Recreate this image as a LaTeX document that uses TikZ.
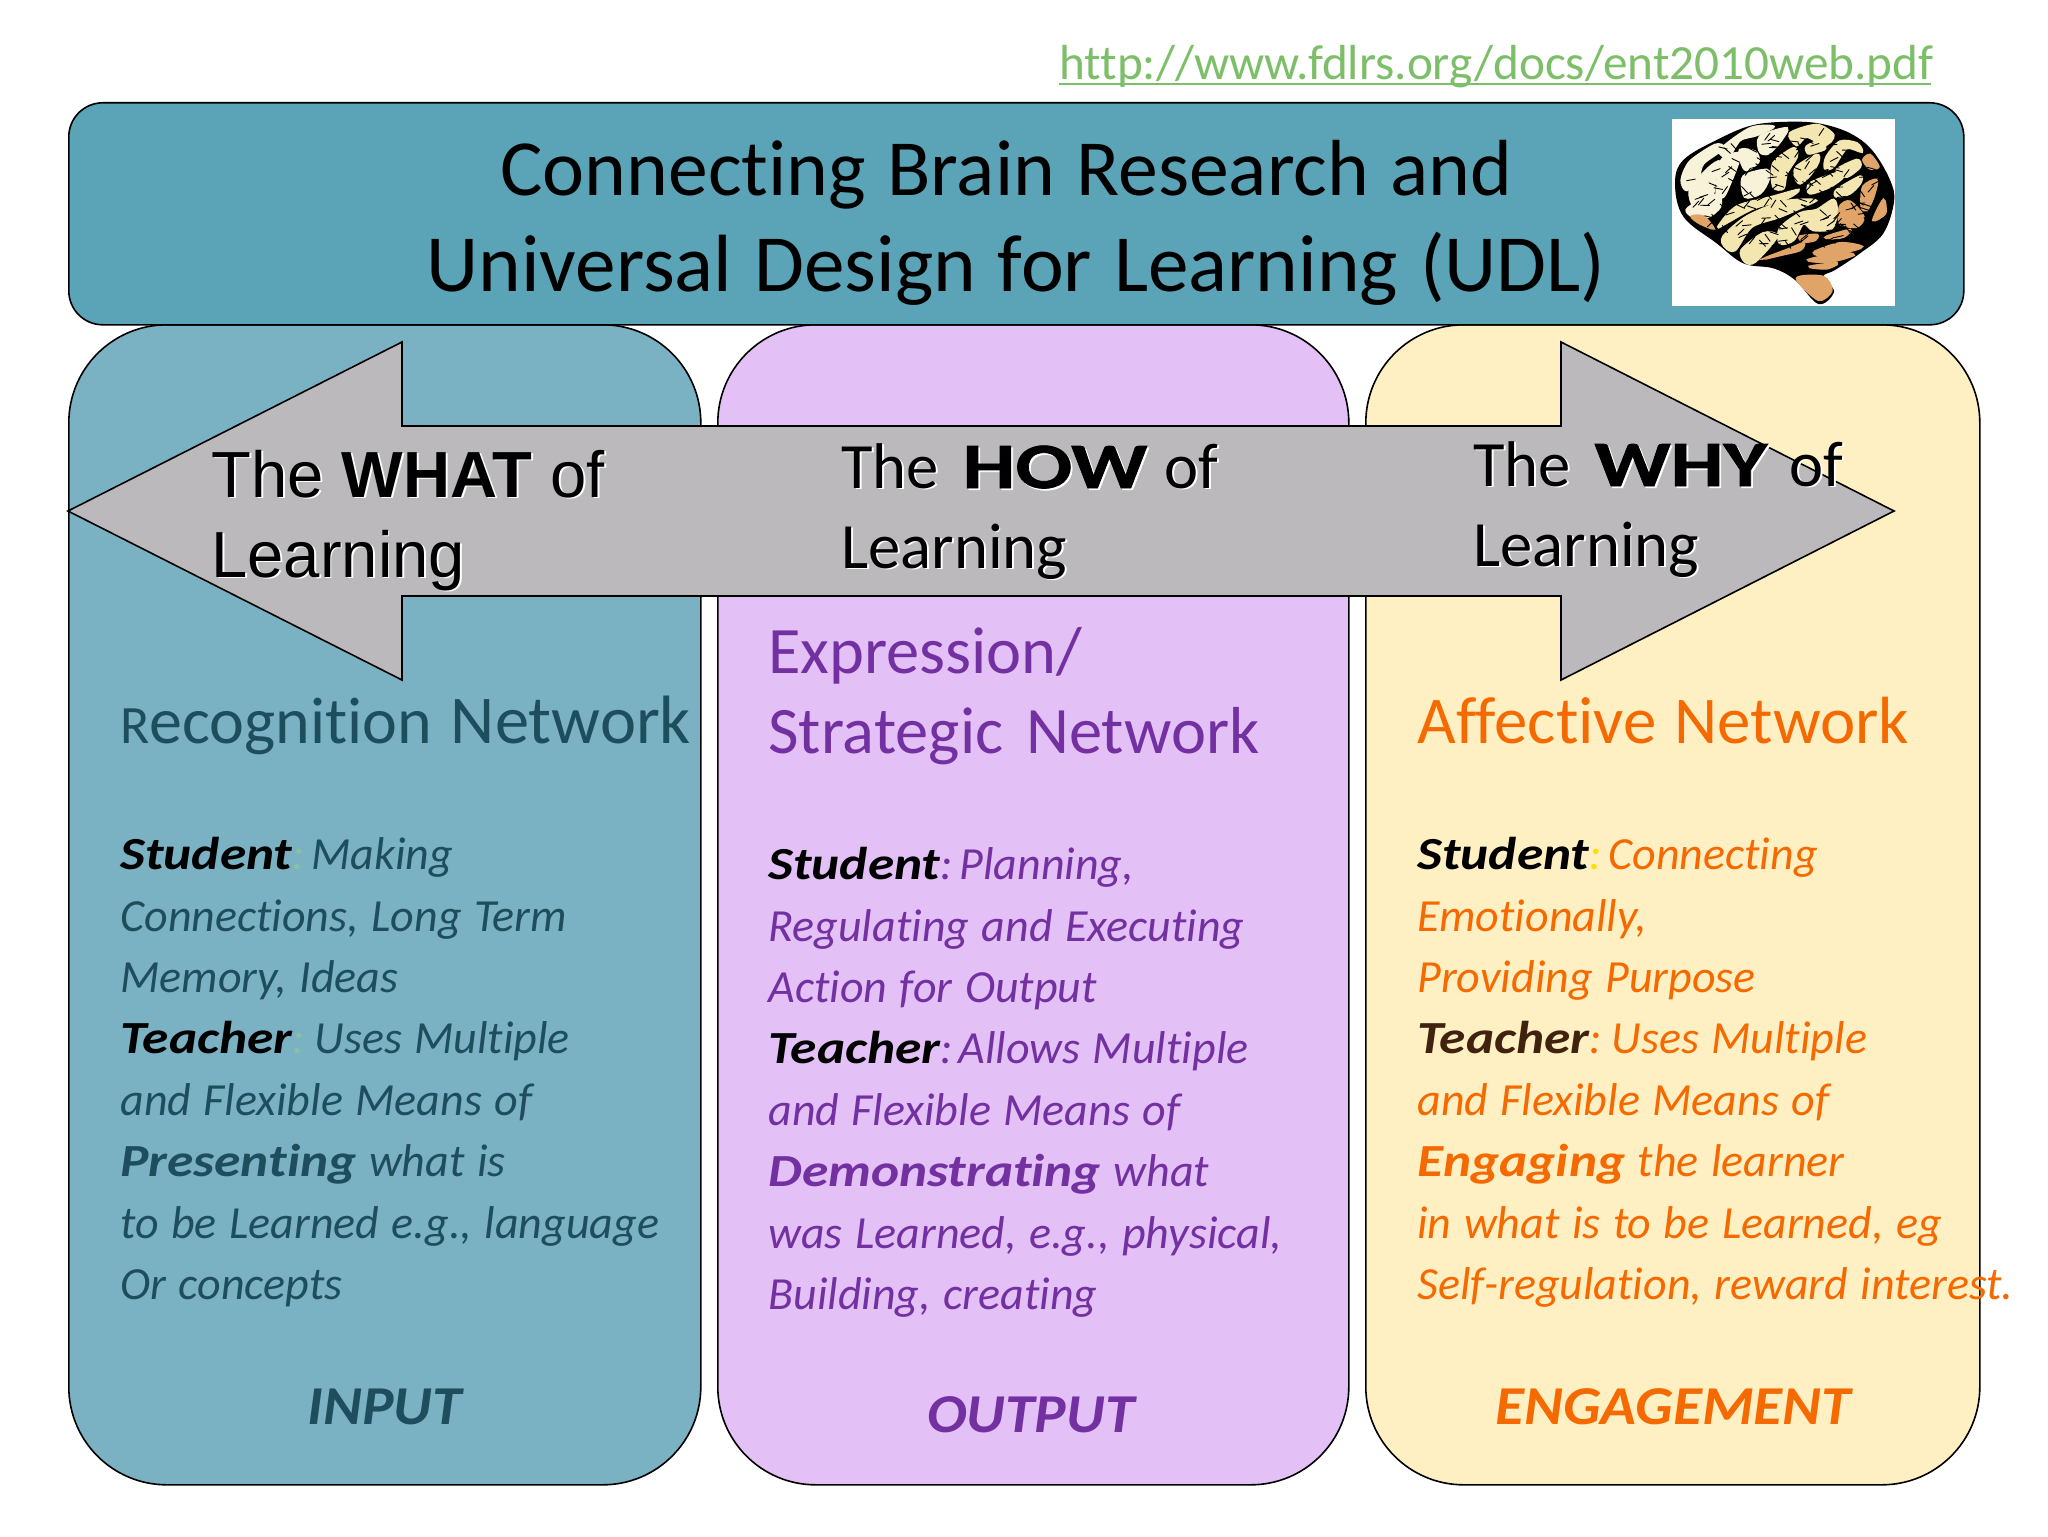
\documentclass[tikz,border=0pt]{standalone}
\usepackage{fontspec}
\setmainfont[Ligatures=NoCommon,WordSpace=1.2]{Carlito}
\newfontfamily\arialf{Liberation Sans}
\definecolor{headfill}{HTML}{5BA3B6}
\definecolor{leftfill}{HTML}{7AB2C3}
\definecolor{midfill}{HTML}{E3C0F6}
\definecolor{rightfill}{HTML}{FFF0C4}
\definecolor{arrowfill}{HTML}{BBB9BC}
\definecolor{linkgreen}{HTML}{7DBF69}
\definecolor{teal}{HTML}{1E4E5E}
\definecolor{purp}{HTML}{7230A0}
\definecolor{orng}{HTML}{F56A00}
\definecolor{brownt}{HTML}{40220F}
\definecolor{cream}{HTML}{F3E6B0}
\definecolor{pale}{HTML}{F8F3D8}
\definecolor{tanb}{HTML}{E0A468}
\definecolor{fadegreen}{HTML}{88BFA5}
\newcommand\fs[2]{\fontsize{#1}{#2}\selectfont}
\newcommand\glow[1]{\leavevmode\rlap{\raisebox{-0.9pt}{\kern0.9pt\textcolor{white}{#1}}}#1}
\newcommand\bst[1]{{\bfseries\addfontfeature{FakeStretch=1.16}#1}}
\newcommand\heavy[1]{{\bfseries\addfontfeature{FakeStretch=1.3,FakeBold=1.2}#1}}
\tikzset{
  x=0.5pt,y=-0.5pt,
  panel/.style={draw=black,line width=0.8pt,rounded corners=49pt,inner sep=0,anchor=north west},
  lbl/.style={inner sep=0,anchor=base west},
  bodytxt/.style={inner sep=0,anchor=north west,align=left,font=\fs{23.0}{30.7}\itshape},
  foot/.style={lbl,font=\fs{27.4}{30}\bfseries\itshape\addfontfeature{FakeStretch=1.08}},
  arrowtxt/.style={lbl,font=\fs{32.3}{39}},
  brainhatch/.style={black,line width=0.45pt,line cap=round}
}
\begin{document}
\begin{tikzpicture}
\useasboundingbox (0,0) rectangle (2048,1536);
\fill[white] (0,0) rectangle (2048,1536);
% panels
\node[panel,fill=leftfill,minimum width=316pt,minimum height=580pt] (leftp) at (68,324) {};
\node[panel,fill=midfill,minimum width=315.5pt,minimum height=580pt] (midp) at (717,324) {};
\node[panel,fill=rightfill,minimum width=307pt,minimum height=580pt] (rightp) at (1365,324) {};
\node[panel,fill=headfill,rounded corners=17pt,minimum width=947.5pt,minimum height=111pt] (head) at (68,102) {};
% brain
\node[fill=white,inner sep=0,anchor=north west,minimum width=111.5pt,minimum height=93.5pt] (brainbg) at (1672,119) {};
\begin{scope}[shift={(1640,20)},x=0.16667pt,y=-0.16667pt]
\fill[black] plot[smooth cycle,tension=0.6] coordinates {(105,490)(130,420)(230,360)(340,315)(470,305)(560,315)(640,345)(700,395)(750,480)(762,545)(730,640)(660,700)(585,750)(550,770)(582,815)(535,852)(465,780)(400,745)(310,730)(230,670)(130,590)};
\filldraw[tanb,line width=1pt] plot[smooth cycle] coordinates {(470,775)(550,770)(575,812)(535,840)};
% frontal folds
\begin{scope}[line width=1.3pt]
\filldraw[pale] plot[smooth cycle] coordinates {(125,480)(150,425)(225,375)(250,385)(190,430)(175,470)(140,510)};
\filldraw[pale] plot[smooth cycle] coordinates {(240,390)(330,325)(400,320)(350,345)(300,360)(265,410)};
\filldraw[pale] plot[smooth cycle] coordinates {(150,510)(205,445)(240,425)(225,480)(215,530)(165,560)};
\filldraw[pale] plot[smooth cycle] coordinates {(245,420)(300,400)(290,440)(270,490)(250,530)(230,520)};
\filldraw[pale] plot[smooth cycle] coordinates {(300,390)(345,395)(355,425)(320,450)(305,430)};
\filldraw[pale] plot[smooth cycle] coordinates {(310,470)(380,450)(385,480)(360,520)(315,530)};
\filldraw[pale] plot[smooth cycle] coordinates {(360,350)(440,325)(420,365)(385,400)(360,395)};
\filldraw[cream] plot[smooth cycle] coordinates {(450,340)(530,315)(580,345)(555,375)(500,350)(470,375)};
\filldraw[cream] plot[smooth cycle] coordinates {(400,430)(460,385)(470,410)(440,460)(430,505)(400,500)};
\filldraw[cream] plot[smooth cycle] coordinates {(470,440)(530,405)(535,425)(510,465)(480,490)(465,470)};
\filldraw[cream] plot[smooth cycle] coordinates {(500,380)(545,360)(555,385)(530,395)(505,400)};
\filldraw[cream] plot[smooth cycle] coordinates {(560,410)(600,365)(650,370)(665,395)(620,385)(580,440)(555,445)};
\filldraw[cream] plot[smooth cycle] coordinates {(510,490)(590,460)(610,470)(570,500)(510,520)};
\filldraw[cream] plot[smooth cycle] coordinates {(590,450)(650,420)(660,440)(620,470)};
\filldraw[cream] plot[smooth cycle] coordinates {(590,510)(660,470)(660,490)(630,520)(590,530)};
% temporal bands
\filldraw[pale] plot[smooth cycle] coordinates {(140,570)(175,545)(235,525)(240,560)(205,590)(160,590)};
\filldraw[cream] plot[smooth cycle] coordinates {(235,620)(290,560)(400,530)(475,510)(440,535)(340,565)(265,605)};
\filldraw[cream] plot[smooth cycle] coordinates {(250,650)(320,590)(430,545)(525,540)(500,555)(420,590)(335,620)(285,690)(255,680)};
\filldraw[cream] plot[smooth cycle] coordinates {(305,690)(370,640)(410,650)(345,725)(315,725)};
\filldraw[cream] plot[smooth cycle] coordinates {(420,625)(480,580)(530,570)(580,540)(590,575)(575,625)(520,630)(490,610)(460,660)(420,670)};
% back, orange
\filldraw[tanb] plot[smooth cycle] coordinates {(670,420)(690,405)(715,440)(690,445)};
\filldraw[tanb] plot[smooth cycle] coordinates {(600,560)(630,545)(670,590)(650,620)(600,610)};
\filldraw[tanb] plot[smooth cycle] coordinates {(670,500)(710,480)(700,530)(680,570)(665,560)};
\filldraw[tanb] plot[smooth cycle] coordinates {(700,600)(730,540)(735,580)};
\filldraw[tanb] plot[smooth cycle] coordinates {(560,650)(630,630)(610,650)(570,655)};
\filldraw[tanb] plot[smooth cycle] coordinates {(155,590)(190,590)(220,625)(180,610)};
\filldraw[tanb] plot[smooth cycle] coordinates {(525,695)(600,670)(665,680)(620,695)(540,705)};
\filldraw[tanb] plot[smooth cycle] coordinates {(505,720)(600,700)(640,705)(570,725)};
\filldraw[tanb] plot[smooth cycle] coordinates {(510,740)(590,730)(560,745)};
\filldraw[tanb] plot[smooth cycle] coordinates {(375,715)(440,690)(490,670)(480,690)(420,705)};
\filldraw[tanb] plot[smooth cycle] coordinates {(480,650)(530,645)(525,660)(490,665)};
\end{scope}
\pgfmathsetseed{7}
\foreach \i in {1,...,170}{
  \pgfmathsetmacro\ra{rnd*360}
  \pgfmathsetmacro\rr{sqrt(rnd)}
  \pgfmathsetmacro\ang{rnd*120-60}
  \draw[brainhatch] ({430+300*\rr*cos(\ra)},{510+175*\rr*sin(\ra)}) -- ++(\ang:26);
}
\end{scope}
% arrow
\draw[fill=arrowfill,line width=0.8pt,line join=miter] (68,511)--(402,342)--(402,426)--(1561,426)--(1561,342)--(1894,511)--(1561,680)--(1561,596)--(402,596)--(402,680)--cycle;
% link
\node[lbl,font=\fs{24.6}{30},text=linkgreen] (link) at (1059,80) {\rlap{\rule[-2.5pt]{436pt}{1pt}}http://www.fdlrs.org/docs/ent2010web.pdf};
% title
\node[lbl,font=\fs{39.8}{48}] (t1) at (500,195) {Connecting Brain Research and};
\node[lbl,font=\fs{40.6}{48}] (t2) at (426,291) {Universal Design for Learning (UDL)};
% arrow labels
\node[lbl,font=\arialf\fs{32.6}{39}] (w1) at (211,497) {\glow{The \textbf{WHAT} of}};
\node[lbl,font=\arialf\fs{32.6}{39}] (w2) at (211,577) {\glow{Learning}};
\node[arrowtxt] (h1) at (841,488) {\glow{The\kern3pt{} \heavy{HOW} of}};
\node[arrowtxt] (h2) at (841,568) {\glow{Learning}};
\node[arrowtxt] (y1) at (1473,486) {\glow{The\kern3pt{} \heavy{WHY}\kern2.5pt{} of}};
\node[arrowtxt] (y2) at (1473,566) {\glow{Learning}};
% network headings
\node[lbl,font=\fs{34.2}{39},text=teal] (n1) at (120,743) {{\fs{27}{39}R}{\fs{33}{39}ecognition} Network};
\node[inner sep=0,anchor=north west,align=left,font=\fs{33.2}{39.8},text=purp] (n2) at (768,627) {Expression/\\Strategic\kern2.5pt{} Network};
\node[lbl,font=\fs{33.4}{39},text=orng] (n3) at (1417,743) {Affective Network};
% bodies
\node[bodytxt,text=teal] (b1) at (120,837) {\bst{\textcolor{black}{Student}}\textcolor{fadegreen}{:}\kern3.4pt Making\\Connections, Long Term\\Memory, Ideas\\\bst{\textcolor{black}{Teacher}}\textcolor{fadegreen}{:}\kern5pt Uses Multiple\\and Flexible Means of\\\bst{Presenting} what is\\to be Learned e.g., language\\Or concepts};
\node[bodytxt,text=purp] (b2) at (768,847) {\bst{\textcolor{black}{Student}}:\kern3.4pt Planning,\\Regulating and Executing\\Action for Output\\\bst{\textcolor{black}{Teacher}}:\kern3pt Allows Multiple\\and Flexible Means of\\\bst{Demonstrating} what\\was Learned, e.g., physical,\\Building, creating};
\node[bodytxt,text=orng] (b3) at (1417,837) {\bst{\textcolor{black}{Student}}\textcolor{yellow!80!orange}{:}\kern3.4pt Connecting\\Emotionally,\\Providing Purpose\\\bst{\textcolor{brownt}{Teacher}}:\kern5pt Uses Multiple\\and Flexible Means of\\\bst{Engaging} the learner\\in what is to be Learned, eg\\Self-regulation, reward interest.};
% footers
\node[foot,text=teal] (f1) at (307,1424) {INPUT};
\node[foot,text=purp] (f2) at (927,1432) {OUTPUT};
\node[foot,text=orng] (f3) at (1495,1424) {ENGAGEMENT};
\end{tikzpicture}
\end{document}
